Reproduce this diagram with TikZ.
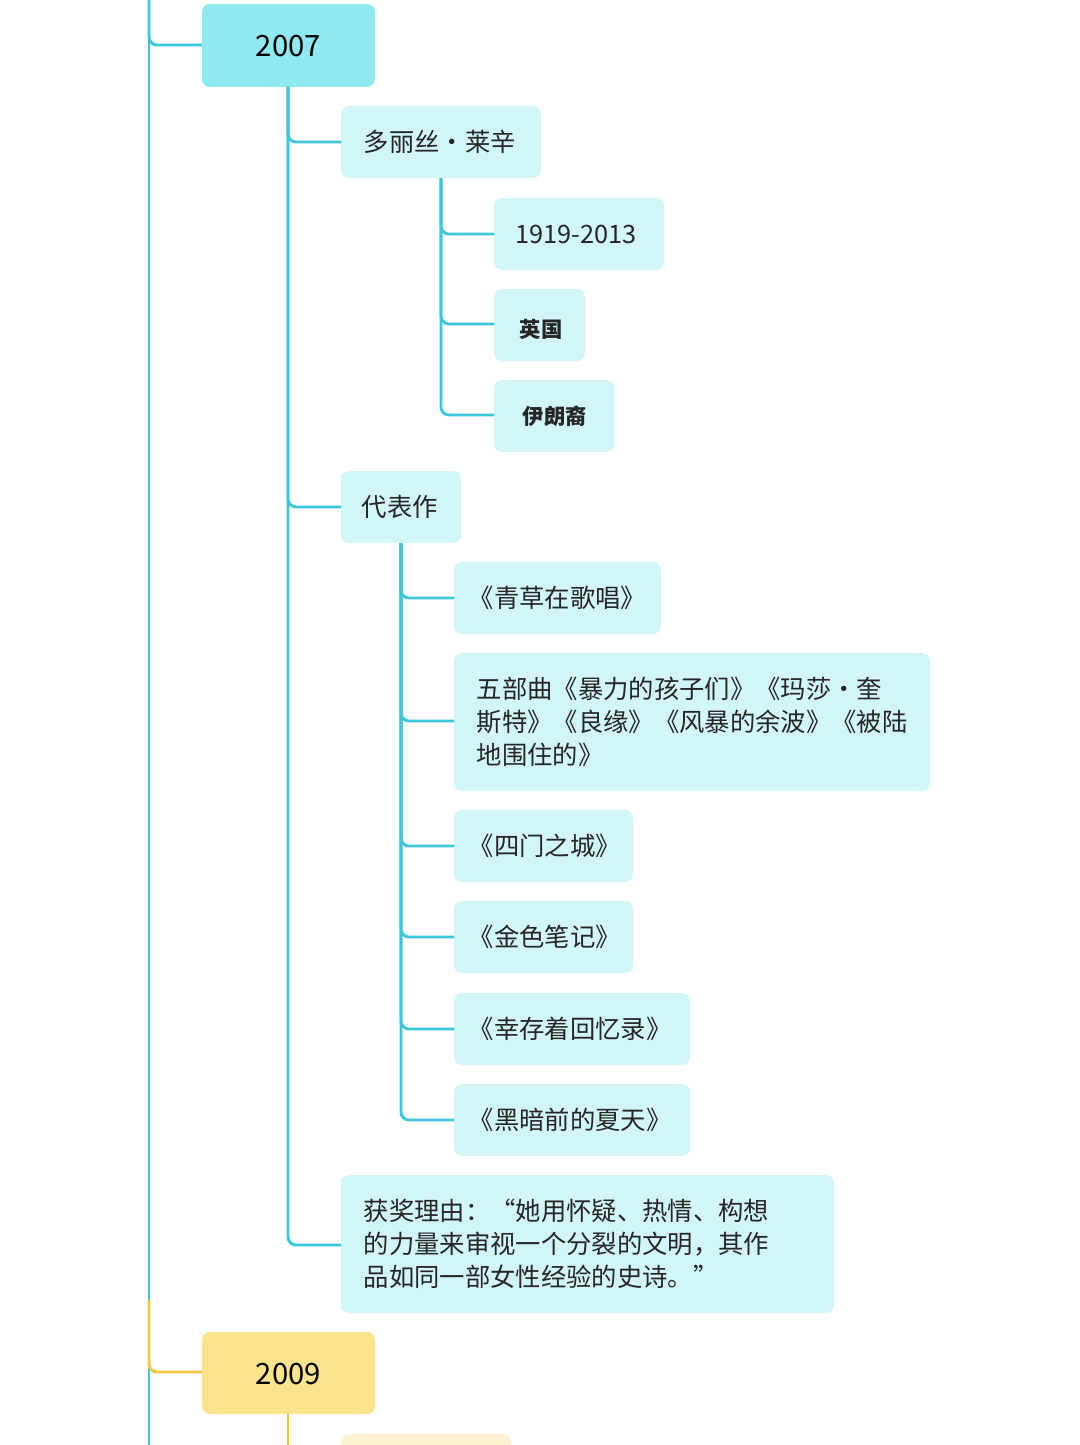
\documentclass[tikz,border=0pt]{standalone}
\usepackage{fontspec}
\setmainfont{Noto Sans CJK SC}
\definecolor{ln}{HTML}{3CC8D8}
\definecolor{yl}{HTML}{F2C842}
\definecolor{top}{HTML}{8EE9F0}
\definecolor{sub}{HTML}{D2F5F7}
\definecolor{ytop}{HTML}{FBE38C}
\definecolor{ysub}{HTML}{FDF3D2}
\begin{document}
\begin{tikzpicture}[x=0.75pt,y=-0.75pt,
  box/.style={rounded corners=6pt,inner sep=0pt},
  txt/.style={anchor=west,font=\fontsize{19}{25}\selectfont,text=black!85},
  con/.style={ln,line width=2.2pt,rounded corners=6pt}]
\useasboundingbox (0,0) rectangle (1080,1445);
\fill[white] (0,0) rectangle (1080,1445);
% boxes
\fill[top,box] (202,4) rectangle (375,87);
\node[font=\fontsize{22}{26}\selectfont] (y7) at (288.5,46) {2007};
\coordinate (b7) at (288,87);
\fill[sub,box] (341,106) rectangle (541,178);
\node[txt] (n1) at (359,142) {多丽丝·莱辛};
\fill[sub,box] (494,198) rectangle (664,270);
\node[txt] (n11) at (511,234) {1919-2013};
\fill[sub,box] (494,289) rectangle (585,361);
\node[txt,font=\bfseries\fontsize{16}{20}\selectfont] (n12) at (515,329) {英国};
\fill[sub,box] (494,380) rectangle (614,452);
\node[txt,font=\bfseries\fontsize{16}{20}\selectfont] (n13) at (518,416) {伊朗裔};
\fill[sub,box] (341,471) rectangle (461,543);
\node[txt] (n2) at (357,507) {代表作};
\fill[sub,box] (454,562) rectangle (661,634);
\node[txt] (w1) at (464,598) {《青草在歌唱》};
\fill[sub,box] (454,653) rectangle (930,791);
\node[txt,anchor=north west,align=left] (w2) at (472,672) {五部曲《暴力的孩子们》《玛莎·奎\\斯特》《良缘》《风暴的余波》《被陆\\地围住的》};
\fill[sub,box] (454,810) rectangle (633,882);
\node[txt] (w3) at (464,846) {《四门之城》};
\fill[sub,box] (454,901) rectangle (633,973);
\node[txt] (w4) at (464,937) {《金色笔记》};
\fill[sub,box] (454,993) rectangle (690,1065);
\node[txt] (w5) at (464,1029) {《幸存着回忆录》};
\fill[sub,box] (454,1084) rectangle (690,1156);
\node[txt] (w6) at (464,1120) {《黑暗前的夏天》};
\fill[sub,box] (341,1175) rectangle (834,1313);
\node[txt,anchor=north west,align=left] (n3) at (359,1194) {获奖理由：“她用怀疑、热情、构想\\的力量来审视一个分裂的文明，其作\\品如同一部女性经验的史诗。”};
\fill[ytop,box] (202,1332) rectangle (375,1414);
\node[font=\fontsize{22}{26}\selectfont] (y9) at (288.5,1374) {2009};
\fill[ysub,box] (341,1434) rectangle (511,1500);
% connectors
\draw[ln,line width=2.2pt] (149,0) -- (149,1445);
\draw[con] (149,0) |- (202,45);
\draw[con] (288,87) |- (341,142);
\draw[con] (288,87) |- (341,507);
\draw[con] (288,87) |- (341,1245);
\draw[con] (441,178) |- (494,234);
\draw[con] (441,178) |- (494,324);
\draw[con] (441,178) |- (494,415);
\foreach \y in {598,721,846,937,1029,1120} \draw[con] (401,543) |- (454,\y);
\draw[yl,line width=2.2pt,rounded corners=6pt] (149,1300) |- (202,1372);
\draw[yl,line width=2.2pt] (288,1414) -- (288,1445);
\end{tikzpicture}
\end{document}
